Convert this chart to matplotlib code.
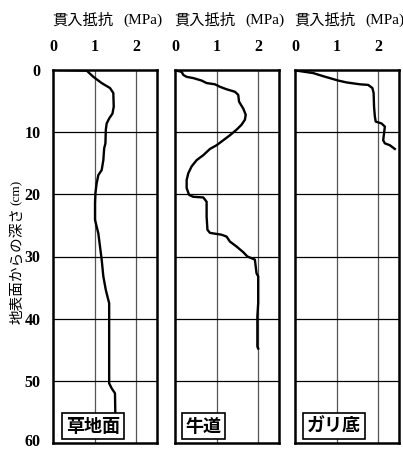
import matplotlib
matplotlib.use("Agg")
import matplotlib.pyplot as plt
import matplotlib.transforms as mtransforms

# ---- data (resistance MPa, depth cm) ----
grass_x = [0.15, 0.81, 0.97, 1.17, 1.37, 1.45, 1.46, 1.43, 1.35, 1.29, 1.27, 1.26, 1.23, 1.21,
           1.17, 1.09, 1.05, 1.02, 1.01, 1.01, 1.05, 1.09, 1.13, 1.17, 1.21, 1.27, 1.33, 1.35,
           1.35, 1.41, 1.49, 1.50]
grass_d = [0.0, 0.1, 1.1, 2.1, 2.9, 3.7, 5.9, 7.0, 7.8, 8.6, 9.6, 11.8, 12.6, 14.5,
           16.1, 16.9, 18.2, 19.8, 21.4, 24.1, 25.2, 26.3, 28.4, 30.5, 33.2, 35.4, 37.0, 37.5,
           50.4, 51.2, 52.0, 56.0]

path_x = [0.04, 0.16, 0.20, 0.28, 0.44, 0.64, 0.76, 0.96, 1.08, 1.24, 1.44, 1.52, 1.54, 1.64,
          1.70, 1.68, 1.60, 1.48, 1.32, 1.16, 1.00, 0.84, 0.68, 0.52, 0.40, 0.32, 0.28, 0.28,
          0.34, 0.44, 0.68, 0.76, 0.76, 0.78, 0.84, 1.12, 1.24, 1.32, 1.48, 1.64, 1.74, 1.92,
          1.96, 2.00, 2.00, 1.98, 1.98, 2.00]
path_d = [0.1, 0.3, 0.8, 1.1, 1.3, 1.7, 2.1, 2.3, 2.7, 3.1, 3.5, 4.0, 5.1, 6.2,
          7.2, 8.0, 8.8, 9.6, 10.5, 11.3, 12.1, 12.7, 13.7, 14.5, 15.5, 16.6, 17.7, 19.0,
          20.1, 20.4, 20.5, 21.2, 23.6, 25.7, 26.2, 26.5, 26.8, 27.6, 28.4, 29.3, 30.0, 30.5,
          32.7, 33.2, 37.5, 39.6, 44.5, 44.8]

gully_x = [0.04, 0.44, 0.68, 1.04, 1.24, 1.56, 1.76, 1.86, 1.89, 1.90, 1.92, 1.94, 2.08, 2.16,
           2.14, 2.12, 2.16, 2.28, 2.40]
gully_d = [0.1, 0.5, 1.0, 1.7, 2.0, 2.3, 2.4, 2.9, 3.7, 5.9, 7.5, 8.3, 8.6, 9.1,
           10.2, 11.3, 11.8, 12.1, 12.7]

panel_names = ["草地面", "牛道", "ガリ底"]
x_ticks = [0, 1, 2]
y_ticks = [0, 10, 20, 30, 40, 50, 60]
title_jp = "貫入抵抗"
title_unit = "(MPa)"
ylabel_jp = "地表面からの深さ"
ylabel_unit = "(cm)"

series = [(grass_x, grass_d), (path_x, path_d), (gully_x, gully_d)]

W, H = 403, 451
fig = plt.figure(figsize=(W / 100, H / 100), dpi=100)

lefts = [53, 175, 295]
pw = 104
top, bottom = 70, 443
box_cx = [0.385, 0.274, 0.375]

serif = "Liberation Serif"
cjk = "Noto Sans CJK JP"

for i, (xs, ds) in enumerate(series):
    ax = fig.add_axes([lefts[i] / W, (H - bottom) / H, pw / W, (bottom - top) / H])
    ax.set_xlim(0, 2.5)
    ax.set_ylim(60, 0)
    for gx in [1, 2]:
        ax.axvline(gx, color="#555555", lw=0.9, zorder=1)
    for gy in [10, 20, 30, 40, 50]:
        ax.axhline(gy, color="black", lw=0.9, zorder=1)
    ax.plot(xs, ds, color="black", lw=1.7, zorder=3)
    ax.xaxis.tick_top()
    ax.set_xticks(x_ticks)
    ax.set_xticklabels([str(t) for t in x_ticks], fontfamily=serif, fontweight="bold", fontsize=11.5)
    ax.tick_params(axis="x", length=0, pad=11)
    ax.set_yticks(y_ticks)
    if i == 0:
        labels = ax.set_yticklabels([str(t) for t in y_ticks], fontfamily=serif,
                                    fontweight="bold", fontsize=11.5)
        ax.tick_params(axis="y", length=0, pad=9)
        shift = mtransforms.ScaledTranslation(0, 3 / 100, fig.dpi_scale_trans)
        last = ax.get_yticklabels()[-1]
        last.set_transform(last.get_transform() + shift)
    else:
        ax.set_yticklabels([])
        ax.tick_params(axis="y", length=0)
    for s in ax.spines.values():
        s.set_linewidth(1.8)
    # title: Japanese part + unit
    ty = (H - 20) / H
    fig.text((lefts[i] - 1) / W, ty, title_jp, family=cjk, fontsize=11, ha="left", va="center")
    fig.text((lefts[i] + 70) / W, ty, title_unit, family=serif, fontsize=11, ha="left", va="center")
    ax.text(box_cx[i], 0.045, panel_names[i], transform=ax.transAxes, ha="center", va="center",
            family=cjk, fontweight="bold", fontsize=13, zorder=5,
            bbox=dict(boxstyle="square,pad=0.2", fc="white", ec="black", lw=1.2))

# y label: Japanese + unit, rotated
fig.text(17 / W, (H - 266) / H, ylabel_jp, family=cjk, fontsize=10.5, rotation=90,
         ha="center", va="center")
fig.text(17 / W, (H - 192) / H, ylabel_unit, family=serif, fontsize=9.5, rotation=90,
         ha="center", va="center")

fig.savefig("out.png", dpi=100)
